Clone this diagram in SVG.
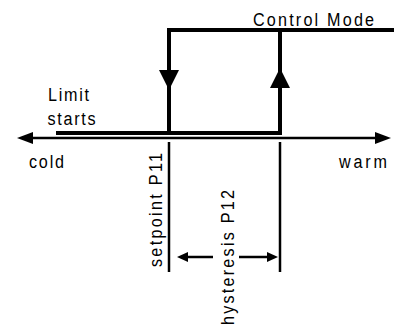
<svg xmlns="http://www.w3.org/2000/svg" width="397" height="327" viewBox="0 0 397 327">
<style>
.t{font-family:"Liberation Sans",Arial,sans-serif;font-size:19px;fill:#000}
.thick{stroke:#000;stroke-width:4;fill:none;stroke-linecap:square}
.thin{stroke:#000;stroke-width:2.5;fill:none}
.ah{fill:#000;stroke:none}
</style>
<rect width="397" height="327" fill="#fff"/>
<g id="connectors">
<path class="thick" d="M58,133 H280 V30 M169,133 V30 H392"/>
<polygon class="ah" points="169,90 159,70 179,70"/>
<polygon class="ah" points="280,68 270,88 290,88"/>
<line class="thin" x1="30" y1="138" x2="378" y2="138"/>
<polygon class="ah" points="17,138 33,132 33,144"/>
<polygon class="ah" points="391,138 375,132 375,144"/>
<line class="thin" x1="169" y1="142" x2="169" y2="272"/>
<line class="thin" x1="280" y1="142" x2="280" y2="272"/>
<line class="thin" x1="213" y1="257" x2="185" y2="257"/>
<polygon class="ah" points="177,257 188,252 188,262"/>
<line class="thin" x1="239" y1="257" x2="268" y2="257"/>
<polygon class="ah" points="278,257 267,252 267,262"/>
</g>
<g id="control-mode"><text class="t" transform="translate(253,25.5) scale(0.85,1)" textLength="142.4" lengthAdjust="spacing">Control Mode</text></g>
<g id="limit-starts"><text class="t" transform="translate(48,100.5) scale(0.85,1)" textLength="48.2" lengthAdjust="spacing">Limit</text><text class="t" transform="translate(47.5,124.5) scale(0.85,1)" textLength="56.5" lengthAdjust="spacing">starts</text></g>
<g id="cold"><text class="t" transform="translate(29,168) scale(0.85,1)" textLength="41.2" lengthAdjust="spacing">cold</text></g>
<g id="warm"><text class="t" transform="translate(339,168) scale(0.85,1)" textLength="56.5" lengthAdjust="spacing">warm</text></g>
<g id="setpoint"><text class="t" transform="translate(162,267) rotate(-90) scale(0.85,1)" textLength="134.1" lengthAdjust="spacing">setpoint P11</text></g>
<g id="hysteresis"><text class="t" transform="translate(234,325) rotate(-90) scale(0.85,1)" textLength="158.8" lengthAdjust="spacing">hysteresis P12</text></g>
</svg>
